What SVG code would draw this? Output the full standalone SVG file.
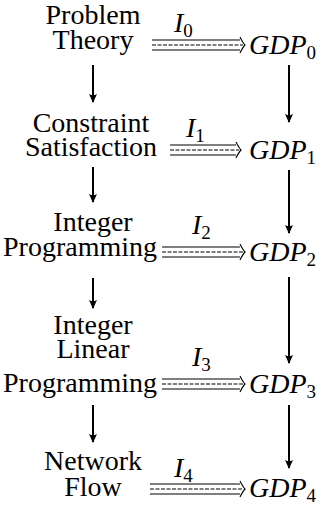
<svg xmlns="http://www.w3.org/2000/svg" width="327" height="505" viewBox="0 0 327 505">
<style>
text{font-family:"Liberation Serif","Times New Roman",serif;fill:#000}
.t{font-size:28px;text-anchor:middle}
.m{font-size:28px;font-style:italic}
.s{font-size:19px;font-style:normal}
.v{stroke:#000;stroke-width:2;fill:none}
.h{stroke:#000;stroke-width:1.1;fill:none}
.d{stroke:#000;stroke-width:1.1;fill:none;stroke-dasharray:4 1.5}
</style>
<defs>
<marker id="ah" viewBox="0 0 10 10" refX="9" refY="5" markerWidth="9" markerHeight="8" markerUnits="userSpaceOnUse" orient="auto" preserveAspectRatio="none">
<path d="M0,0 L10,5 L0,10 Q3,5 0,0 Z" fill="#000"/>
</marker>
</defs>
<g id="n-pt"><text class="t" x="93" y="24">Problem</text><text class="t" x="93" y="49">Theory</text></g>
<g id="n-cs"><text class="t" x="91" y="132">Constraint</text><text class="t" x="91" y="156">Satisfaction</text></g>
<g id="n-ip"><text class="t" x="93" y="231">Integer</text><text class="t" x="80" y="256">Programming</text></g>
<g id="n-ilp"><text class="t" x="93" y="334">Integer</text><text class="t" x="93" y="358">Linear</text><text class="t" x="80" y="392">Programming</text></g>
<g id="n-nf"><text class="t" x="93" y="470">Network</text><text class="t" x="93" y="496">Flow</text></g>
<g id="n-g0"><text class="m" x="249" y="54">GDP<tspan class="s" dy="5">0</tspan></text></g>
<g id="n-g1"><text class="m" x="249" y="159">GDP<tspan class="s" dy="5">1</tspan></text></g>
<g id="n-g2"><text class="m" x="249" y="261">GDP<tspan class="s" dy="5">2</tspan></text></g>
<g id="n-g3"><text class="m" x="249" y="393">GDP<tspan class="s" dy="5">3</tspan></text></g>
<g id="n-g4"><text class="m" x="249" y="497">GDP<tspan class="s" dy="5">4</tspan></text></g>
<g id="connectors">
<line class="v" x1="93" y1="65" x2="93" y2="102" marker-end="url(#ah)"/>
<line class="v" x1="93" y1="167" x2="93" y2="202" marker-end="url(#ah)"/>
<line class="v" x1="93" y1="278" x2="93" y2="308" marker-end="url(#ah)"/>
<line class="v" x1="93" y1="405" x2="93" y2="442" marker-end="url(#ah)"/>
<line class="v" x1="289" y1="65" x2="289" y2="122" marker-end="url(#ah)"/>
<line class="v" x1="289" y1="170" x2="289" y2="233" marker-end="url(#ah)"/>
<line class="v" x1="289" y1="277" x2="289" y2="363" marker-end="url(#ah)"/>
<line class="v" x1="289" y1="405" x2="289" y2="468" marker-end="url(#ah)"/>
<g id="i0"><path class="h" d="M152,40 H240 M152,50 H240 M240,37 Q243,43 245,45 Q243,47 240,53"/><path class="d" d="M152,45 H243"/><text class="m" x="174" y="32">I<tspan class="s" dy="5">0</tspan></text></g>
<g id="i1"><path class="h" d="M170,145 H236 M170,155 H236 M236,142 Q239,148 241,150 Q239,152 236,158"/><path class="d" d="M170,150 H239"/><text class="m" x="186" y="137">I<tspan class="s" dy="5">1</tspan></text></g>
<g id="i2"><path class="h" d="M162,247 H240 M162,257 H240 M240,244 Q243,250 245,252 Q243,254 240,260"/><path class="d" d="M162,252 H243"/><text class="m" x="192" y="234">I<tspan class="s" dy="5">2</tspan></text></g>
<g id="i3"><path class="h" d="M162,379 H240 M162,389 H240 M240,376 Q243,382 245,384 Q243,386 240,392"/><path class="d" d="M162,384 H243"/><text class="m" x="192" y="366">I<tspan class="s" dy="5">3</tspan></text></g>
<g id="i4"><path class="h" d="M150,484 H240 M150,494 H240 M240,481 Q243,487 245,489 Q243,491 240,497"/><path class="d" d="M150,489 H243"/><text class="m" x="174" y="477">I<tspan class="s" dy="5">4</tspan></text></g>
</g>
</svg>
